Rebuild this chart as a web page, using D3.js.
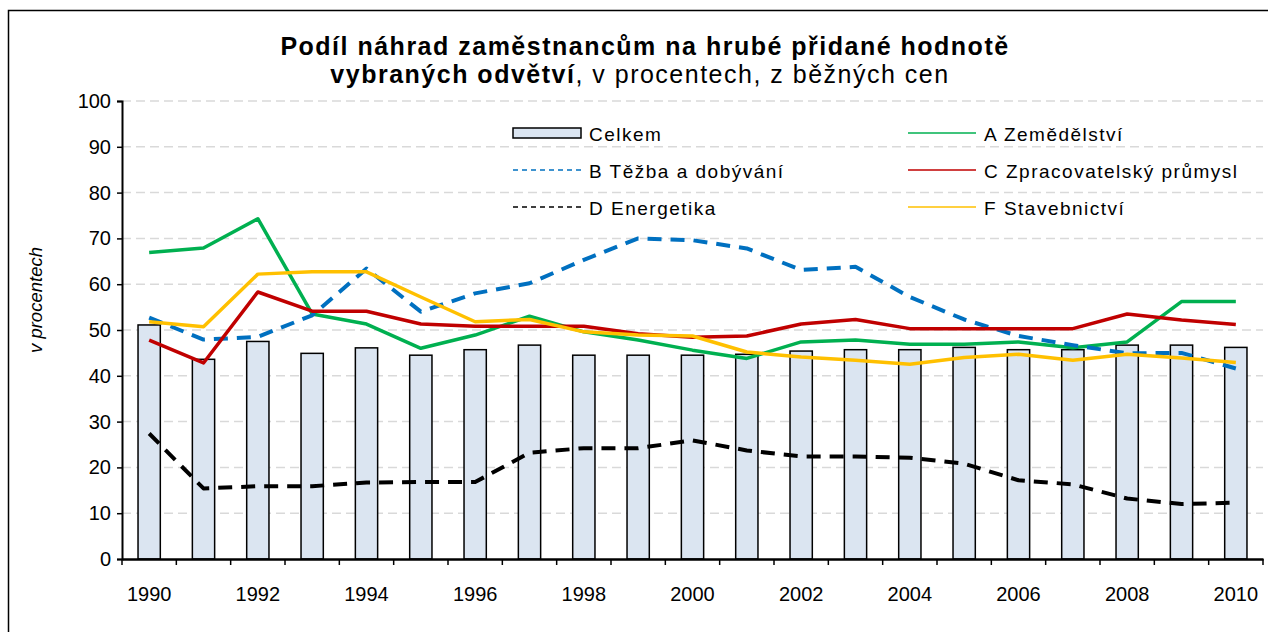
<!DOCTYPE html>
<html>
<head>
<meta charset="utf-8">
<script src="https://cdn.jsdelivr.net/npm/d3@7"></script>
<style>
  body { margin: 0; background: #fff; }
  svg { display: block; font-family: "Liberation Sans", Arial, sans-serif; }
</style>
</head>
<body>
<svg id="chart"></svg>
<script>
// data
const years = [1990, 1991, 1992, 1993, 1994, 1995, 1996, 1997, 1998, 1999, 2000,
               2001, 2002, 2003, 2004, 2005, 2006, 2007, 2008, 2009, 2010];
const celkem = [51.1, 43.6, 47.5, 44.9, 46.1, 44.5, 45.7, 46.7, 44.5, 44.5, 44.5,
                44.7, 45.4, 45.7, 45.7, 46.2, 45.7, 45.7, 46.7, 46.7, 46.2];
const zemedelstvi = [66.9, 67.9, 74.3, 53.5, 51.3, 46.0, 48.9, 53.0, 49.6, 47.8, 45.6,
                     43.8, 47.4, 47.8, 46.9, 46.9, 47.4, 46.1, 47.4, 56.2, 56.2];
const tezba = [52.7, 47.9, 48.5, 53.2, 63.4, 54.0, 58.0, 60.2, 65.3, 70.0, 69.6,
               67.8, 63.1, 63.8, 57.2, 52.3, 48.7, 46.7, 44.9, 45.0, 41.6];
const zpracovatelsky = [47.8, 42.8, 58.3, 54.1, 54.1, 51.3, 50.8, 50.8, 50.8, 49.2, 48.4,
                        48.7, 51.3, 52.3, 50.3, 50.3, 50.3, 50.3, 53.5, 52.2, 51.2];
const energetika = [27.4, 15.4, 15.9, 15.9, 16.7, 16.8, 16.8, 23.2, 24.2, 24.2, 25.9,
                    23.7, 22.4, 22.4, 22.1, 20.8, 17.2, 16.3, 13.2, 12.0, 12.3];
const stavebnictvi = [51.8, 50.7, 62.2, 62.7, 62.7, 57.2, 51.8, 52.3, 49.6, 48.9, 48.7,
                      45.2, 44.1, 43.4, 42.5, 44.0, 44.7, 43.4, 44.7, 43.9, 42.9];
const yTicks = [0, 10, 20, 30, 40, 50, 60, 70, 80, 90, 100];
const xLabels = [1990, 1992, 1994, 1996, 1998, 2000, 2002, 2004, 2006, 2008, 2010];

const seriesList = [
  { name: "A Zemědělství", values: zemedelstvi, color: "#00b050", dash: null },
  { name: "B Těžba a dobývání", values: tezba, color: "#0070c0", dash: "14,9" },
  { name: "C Zpracovatelský průmysl", values: zpracovatelsky, color: "#c00000", dash: null },
  { name: "D Energetika", values: energetika, color: "#000000", dash: "14,9" },
  { name: "F Stavebnictví", values: stavebnictvi, color: "#ffc000", dash: null }
];

const width = 1268, height = 632;
const plotLeft = 122, plotRight = 1263, plotTop = 101, plotBottom = 559;

const svg = d3.select("#chart").attr("width", width).attr("height", height);

// outer frame
svg.append("rect")
  .attr("x", 8.5).attr("y", 10.5)
  .attr("width", 1300).attr("height", 700)
  .attr("fill", "none").attr("stroke", "#000").attr("stroke-width", 1.5);

const x = d3.scaleBand().domain(years).range([plotLeft, plotRight])
  .paddingInner(0.59).paddingOuter(0.295);
const y = d3.scaleLinear().domain([0, 100]).range([plotBottom, plotTop]);

// title
const title = svg.append("text").attr("text-anchor", "middle").attr("fill", "#000")
  .attr("letter-spacing", 1.5);
title.append("tspan").attr("x", 645).attr("y", 55)
  .attr("font-size", 25).attr("font-weight", "bold")
  .text("Podíl náhrad zaměstnancům na hrubé přidané hodnotě");
const t2 = title.append("tspan").attr("x", 640).attr("y", 83).attr("font-size", 25);
t2.append("tspan").attr("font-weight", "bold").text("vybraných odvětví");
t2.append("tspan").text(", v procentech, z běžných cen");

// gridlines
svg.append("g").selectAll("line")
  .data(yTicks.filter(d => d > 0))
  .join("line")
  .attr("x1", plotLeft).attr("x2", plotRight)
  .attr("y1", d => y(d)).attr("y2", d => y(d))
  .attr("stroke", "#d9d9d9").attr("stroke-width", 1.5)
  .attr("stroke-dasharray", "9,5");

// bars
svg.append("g").selectAll("rect")
  .data(years)
  .join("rect")
  .attr("x", d => x(d))
  .attr("width", x.bandwidth())
  .attr("y", (d, i) => y(celkem[i]))
  .attr("height", (d, i) => y(0) - y(celkem[i]))
  .attr("fill", "#dbe5f1")
  .attr("stroke", "#000").attr("stroke-width", 1.5);

// lines
const line = d3.line()
  .x((d, i) => x(years[i]) + x.bandwidth() / 2)
  .y(d => y(d));

svg.append("g").selectAll("path")
  .data(seriesList)
  .join("path")
  .attr("d", d => line(d.values))
  .attr("fill", "none")
  .attr("stroke", d => d.color)
  .attr("stroke-width", d => d.dash ? 4 : 3.5)
  .attr("stroke-linejoin", "round")
  .attr("stroke-dasharray", d => d.dash);

// y axis
const yAxis = svg.append("g")
  .attr("transform", `translate(${plotLeft},0)`)
  .call(d3.axisLeft(y).tickValues(yTicks).tickSize(5).tickPadding(6));
yAxis.select(".domain").attr("stroke-width", 2);
yAxis.selectAll(".tick line").attr("stroke-width", 1.5);
yAxis.selectAll("text").attr("font-size", 20).attr("fill", "#000")
  .attr("font-family", "Liberation Sans, Arial, sans-serif");

// x axis
const xAxis = svg.append("g")
  .attr("transform", `translate(0,${plotBottom})`)
  .call(d3.axisBottom(x).tickValues(xLabels).tickSize(0).tickPadding(28));
xAxis.select(".domain").attr("stroke-width", 2.5);
xAxis.selectAll("text").attr("font-size", 20).attr("fill", "#000")
  .attr("font-family", "Liberation Sans, Arial, sans-serif");

const bounds = years.map(d => x(d) - x.step() * x.paddingInner() / 2);
bounds.push(plotRight);
svg.append("g").selectAll("line")
  .data(bounds)
  .join("line")
  .attr("x1", d => d).attr("x2", d => d)
  .attr("y1", plotBottom).attr("y2", plotBottom + 6)
  .attr("stroke", "#000").attr("stroke-width", 1.5);

// y axis title
svg.append("text")
  .attr("transform", "translate(42,300) rotate(-90)")
  .attr("text-anchor", "middle")
  .attr("font-size", 18.5).attr("font-style", "italic")
  .text("v procentech");

// legend
const legendItems = [
  { name: "Celkem", type: "bar" },
  seriesList[0], seriesList[1], seriesList[2], seriesList[3], seriesList[4]
];
const legend = svg.append("g");
const item = legend.selectAll("g")
  .data(legendItems)
  .join("g")
  .attr("transform", (d, i) => `translate(${i % 2 === 0 ? 513 : 908},${133 + Math.floor(i / 2) * 37})`);

item.filter(d => d.type === "bar")
  .append("rect")
  .attr("x", 0).attr("y", -5).attr("width", 68).attr("height", 10)
  .attr("fill", "#dbe5f1").attr("stroke", "#000").attr("stroke-width", 1.5);

item.filter(d => d.type !== "bar")
  .append("line")
  .attr("x1", 0).attr("x2", 68).attr("y1", 0).attr("y2", 0)
  .attr("stroke", d => d.color).attr("stroke-width", 1.5)
  .attr("stroke-dasharray", d => d.dash ? "5,4" : null);

item.append("text")
  .attr("x", 76).attr("y", 8)
  .attr("font-size", 19).attr("letter-spacing", 1.5)
  .text(d => d.name);
</script>
</body>
</html>
